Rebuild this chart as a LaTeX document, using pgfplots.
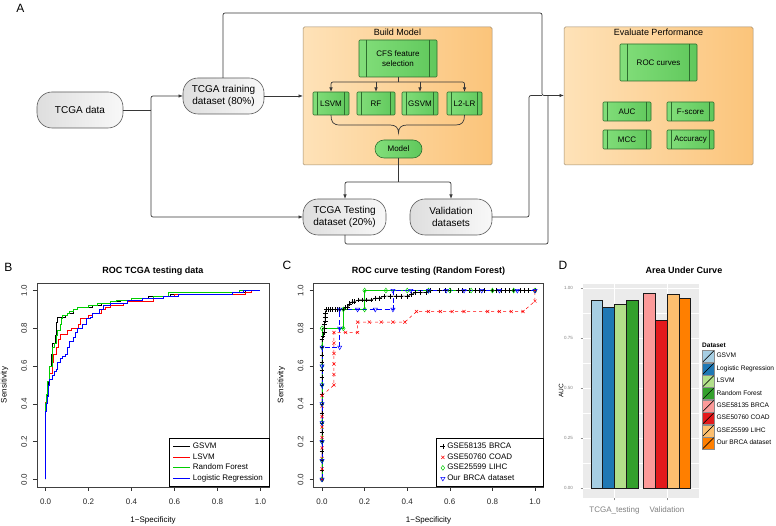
\documentclass[border=0pt]{standalone}
\usepackage{pgfplots}
\pgfplotsset{compat=1.18}
\usepackage{fontspec}
\setmainfont{Liberation Sans}
\usetikzlibrary{arrows.meta}

\definecolor{orL}{RGB}{254,226,184}
\definecolor{orR}{RGB}{251,196,122}
\definecolor{orB}{RGB}{160,140,110}
\definecolor{grL}{RGB}{130,222,122}
\definecolor{grR}{RGB}{96,200,92}
\definecolor{grB}{RGB}{46,110,46}
\definecolor{pL}{RGB}{222,222,222}
\definecolor{pR}{RGB}{248,248,248}
\definecolor{pB}{RGB}{90,90,90}
\definecolor{fl}{RGB}{55,55,55}
\definecolor{rgreen}{RGB}{0,205,0}
\definecolor{bgD}{RGB}{235,235,235}
\definecolor{pa1}{HTML}{A6CEE3}
\definecolor{pa2}{HTML}{1F78B4}
\definecolor{pa3}{HTML}{B2DF8A}
\definecolor{pa4}{HTML}{33A02C}
\definecolor{pa5}{HTML}{FB9A99}
\definecolor{pa6}{HTML}{E31A1C}
\definecolor{pa7}{HTML}{FDBF6F}
\definecolor{pa8}{HTML}{FF7F00}

\newcommand{\fs}[2]{\fontsize{#1}{#2}\selectfont}
% green process box: x1 y1 x2 y2 inset text
\newcommand{\gbox}[6]{%
  \draw[grB, line width=0.6pt, rounded corners=1pt, left color=grL, right color=grR] (#1,#2) rectangle (#3,#4);
  \draw[grB, line width=0.5pt] ({#1+#5},#2) -- ({#1+#5},#4) ({#3-#5},#2) -- ({#3-#5},#4);
  \node[font=\fs{8}{9.5}, align=center] at ({(#1+#3)/2},{(#2+#4)/2}) {#6};}
% grey pill: x1 y1 x2 y2 text
\newcommand{\pbox}[5]{%
  \draw[pB, line width=0.6pt, rounded corners=15pt, left color=pL, right color=pR] (#1,#2) rectangle (#3,#4);
  \node[font=\fs{10}{12}, align=center] at ({(#1+#3)/2},{(#2+#4)/2}) {#5};}

\pgfplotsset{
  rocax/.style={
    scale only axis,
    xmin=-0.04, xmax=1.04, ymin=-0.04, ymax=1.04,
    xtick={0,0.2,0.4,0.6,0.8,1}, ytick={0,0.2,0.4,0.6,0.8,1},
    xticklabels={0.0,0.2,0.4,0.6,0.8,1.0}, yticklabels={0.0,0.2,0.4,0.6,0.8,1.0},
    tick align=outside, tick pos=left, major tick length=4pt,
    tick style={black!80, line width=0.5pt},
    axis line style={black!75, line width=0.7pt},
    ticklabel style={font=\fs{8}{9}, text=black!85},
    xticklabel shift=4.5pt, yticklabel shift=2.5pt,
    xticklabel style={anchor=north},
    yticklabel style={rotate=90, anchor=south},
    label style={font=\fs{8}{9}},
    xlabel={1−Specificity}, ylabel={Sensitivity},
    xlabel style={at={(axis description cs:0.5,-0.165)}, anchor=center},
    ylabel style={at={(axis description cs:-0.14,0.5)}, anchor=center},
    title style={at={(axis description cs:0.5,1.03)}, anchor=center, yshift=0pt, font=\bfseries\fs{9}{10}},
    legend cell align=left,
    legend style={at={(rel axis cs:1,0)}, anchor=south east, draw=black, line width=0.5pt,
      font=\fs{8}{9.5}, row sep=-0.5pt, inner xsep=4pt, inner ysep=2.5pt},
  },
}

\begin{document}
\begin{tikzpicture}[x=1pt,y=1pt]
\useasboundingbox (0pt,0pt) rectangle (776pt,526pt);

\begin{scope}[shift={(0pt,526pt)}, y=-1pt]
% panel letters
\node[font=\fs{12}{14}] at (20.5,8) {A};
\node[font=\fs{12}{14}] at (8.5,267) {B};
\node[font=\fs{12}{14}] at (287,265.5) {C};
\node[font=\fs{12}{14}] at (563,265.5) {D};

% big orange boxes
\draw[orB, line width=0.5pt, rounded corners=1.5pt, left color=orL, right color=orR] (303,27) rectangle (492,165);
\node[font=\fs{9}{10}] at (397.5,32) {Build Model};
\draw[orB, line width=0.5pt, rounded corners=1.5pt, left color=orL, right color=orR] (564,27) rectangle (753,165);
\node[font=\fs{9}{10}] at (658.5,32) {Evaluate Performance};

% green boxes
\gbox{359}{40}{437}{77}{7.5}{CFS feature\\selection}
\gbox{313}{92}{349}{115}{4.5}{LSVM}
\gbox{357}{92}{395}{115}{4.5}{RF}
\gbox{402}{92}{438}{115}{4.5}{GSVM}
\gbox{447}{92}{482}{115}{4.5}{L2-LR}
\gbox{620}{44}{697}{81}{7.5}{ROC curves}
\gbox{603}{102}{651}{121}{4.5}{AUC}
\gbox{667}{102}{714}{121}{4.5}{F-score}
\gbox{603}{130}{651}{149}{4.5}{MCC}
\gbox{667}{130}{714}{149}{4.5}{Accuracy}
\draw[grB, line width=0.6pt, rounded corners=9pt, left color=grL, right color=grR] (375,140) rectangle (422,158);
\node[font=\fs{8}{9.5}] at (398.5,149) {Model};

% grey pills
\pbox{37}{92}{123}{128}{TCGA data}
\pbox{183}{78}{264}{114}{TCGA training\\dataset (80\%)}
\pbox{303}{199}{386}{235}{TCGA Testing\\dataset (20\%)}
\pbox{410}{199}{492}{235}{Validation\\datasets}

% connectors
\begin{scope}[fl, line width=0.7pt, rounded corners=2pt, >={Latex[length=4.5pt,width=3.5pt]}]
\draw (123,110) -- (151,110);
\draw[->] (151,110) -- (151,96) -- (183,96);
\draw[->] (151,110) -- (151,217) -- (303,217);
\draw[->] (264,96) -- (303,96);
\draw[->] (223,78) -- (223,13) -- (542,13) -- (542,95.5) -- (564,95.5);
\draw (492,217) -- (529,217) -- (529,95.5) -- (542,95.5);
\draw (345,235) -- (345,244) -- (548,244) -- (548,95.5);
\draw (398,77) -- (398,82);
\draw[->] (398,82) -| (331,92);
\draw[->] (398,82) -| (464.5,92);
\draw[->] (376,82) -- (376,92);
\draw[->] (420,82) -- (420,92);
\draw[rounded corners=0pt] (331,115) .. controls (331,122) and (333,125) .. (340,125) -- (390,125)
  .. controls (396,125) and (398.5,128) .. (398.5,133) .. controls (398.5,128) and (401,125) .. (407,125)
  -- (456,125) .. controls (462,125) and (464.5,122) .. (464.5,115);
\draw (398.5,158) -- (398.5,182);
\draw[->] (398.5,182) -| (345,199);
\draw[->] (398.5,182) -| (451,199);
\end{scope}

% panel D texts
\node[font=\bfseries\fs{9}{10}] at (684,270) {Area Under Curve};
\node[font=\bfseries\fs{6.5}{8}, anchor=west, inner sep=0pt] at (702,345) {Dataset};
\end{scope}

% ---------- B ----------
\begin{axis}[rocax, at={(37pt,39pt)}, anchor=south west, width=232pt, height=204pt,
  title={ROC TCGA testing data},
  legend image code/.code={\draw[#1] (0pt,0pt) -- (17pt,0pt);}]
\addlegendimage{draw=black, line width=0.9pt}
\addlegendentry{GSVM}
\addlegendimage{draw=red, line width=0.9pt}
\addlegendentry{LSVM}
\addlegendimage{draw=rgreen, line width=0.9pt}
\addlegendentry{Random Forest}
\addlegendimage{draw=blue, line width=0.9pt}
\addlegendentry{Logistic Regression}
\addplot[black, line width=0.8pt, const plot, forget plot] coordinates {
(0,0) (0,0.36) (0.005,0.40) (0.01,0.49) (0.015,0.52) (0.02,0.6) (0.025,0.66) (0.03,0.72)
(0.045,0.76) (0.05,0.83) (0.055,0.86) (0.09,0.87) (0.1,0.88) (0.13,0.9) (0.15,0.91)
(0.22,0.92) (0.26,0.93) (0.3,0.94) (0.35,0.95) (0.4,0.96) (0.48,0.97) (0.58,0.98)
(0.87,0.99) (0.93,1.0) (1,1)};
\addplot[red, line width=0.8pt, const plot, forget plot] coordinates {
(0,0) (0,0.41) (0.005,0.45) (0.01,0.52) (0.02,0.56) (0.03,0.62) (0.035,0.66) (0.05,0.7)
(0.06,0.74) (0.07,0.77) (0.1,0.79) (0.12,0.8) (0.155,0.82) (0.16,0.85) (0.2,0.87)
(0.22,0.88) (0.26,0.9) (0.28,0.91) (0.3,0.92) (0.36,0.93) (0.38,0.94) (0.5,0.97)
(0.6,0.98) (0.93,0.99) (0.96,1.0) (1,1)};
\addplot[rgreen, line width=0.8pt, const plot, forget plot] coordinates {
(0,0) (0,0.4) (0.005,0.45) (0.01,0.52) (0.02,0.6) (0.03,0.7) (0.04,0.72) (0.05,0.76)
(0.055,0.79) (0.07,0.82) (0.075,0.85) (0.08,0.87) (0.1,0.88) (0.11,0.89) (0.13,0.9)
(0.15,0.91) (0.2,0.92) (0.24,0.93) (0.3,0.94) (0.33,0.95) (0.4,0.96) (0.5,0.97)
(0.57,0.99) (0.78,0.99) (0.9,1.0) (1,1)};
\addplot[blue, line width=0.8pt, const plot, forget plot] coordinates {
(0,0) (0,0.36) (0.005,0.40) (0.01,0.44) (0.015,0.5) (0.02,0.53) (0.03,0.55) (0.04,0.57)
(0.05,0.58) (0.055,0.62) (0.07,0.64) (0.08,0.65) (0.09,0.66) (0.1,0.7) (0.11,0.73)
(0.13,0.75) (0.14,0.78) (0.15,0.8) (0.17,0.82) (0.19,0.85) (0.21,0.86) (0.22,0.88)
(0.25,0.9) (0.27,0.92) (0.3,0.93) (0.38,0.95) (0.45,0.96) (0.55,0.97) (0.62,0.98)
(0.87,0.99) (0.92,1.0) (1,1)};
\end{axis}

% ---------- C ----------
\begin{axis}[rocax, at={(313.5pt,39pt)}, anchor=south west, width=230pt, height=204pt,
  title={ROC curve testing (Random Forest)},
  legend style={/tikz/every even column/.append style={text width=90pt}},
  legend image code/.code={\draw[#1] plot coordinates {(3pt,0pt)};}]
\addlegendimage{only marks, mark=+, draw=black, mark size=2.4pt}
\addlegendentry{GSE58135 BRCA}
\addlegendimage{only marks, mark=x, draw=red, mark size=2.2pt}
\addlegendentry{GSE50760 COAD}
\addlegendimage{only marks, mark=diamond, draw=rgreen, mark size=2.4pt}
\addlegendentry{GSE25599 LIHC}
\addlegendimage{only marks, mark=triangle, mark options={rotate=180}, draw=blue, mark size=2.4pt}
\addlegendentry{Our BRCA dataset}
\addplot[black, line width=0.5pt, mark=+, mark size=2.4pt, forget plot] coordinates {
(0,0) (0,0.05) (0,0.1) (0,0.15) (0,0.2) (0,0.25) (0,0.3) (0,0.35) (0,0.4) (0,0.45) (0,0.5)
(0,0.54) (0,0.58) (0,0.62) (0,0.66) (0,0.7) (0,0.74) (0.005,0.76) (0.01,0.78) (0.01,0.8)
(0.01,0.82) (0.015,0.84) (0.015,0.86) (0.015,0.88) (0.02,0.9) (0.03,0.9) (0.04,0.9)
(0.05,0.9) (0.06,0.9) (0.07,0.9) (0.08,0.9) (0.1,0.9) (0.11,0.91) (0.12,0.91) (0.13,0.93)
(0.14,0.94) (0.15,0.94) (0.17,0.95) (0.19,0.95) (0.21,0.95) (0.23,0.95) (0.25,0.96)
(0.27,0.96) (0.29,0.97) (0.32,0.97) (0.35,0.97) (0.37,0.97) (0.4,0.97) (0.42,0.98)
(0.44,0.99) (0.46,0.99) (0.49,0.99) (0.51,1) (0.55,1) (0.58,1) (0.6,1) (0.64,1) (0.66,1)
(0.69,1) (0.72,1) (0.74,1) (0.76,1) (0.8,1) (0.82,1) (0.84,1) (0.86,1) (0.88,1) (0.9,1)
(0.93,1) (0.95,1) (0.97,1) (1,1)};
\addplot[red, line width=0.5pt, dashed, mark=x, mark size=2.2pt, mark options={solid}, forget plot] coordinates {
(0,0) (0,0.056) (0,0.111) (0,0.167) (0,0.222) (0,0.278) (0,0.333) (0,0.389) (0,0.444)
(0.056,0.5) (0.056,0.556) (0.056,0.611) (0.056,0.667) (0.056,0.722) (0.056,0.778)
(0.111,0.778) (0.167,0.778) (0.167,0.833) (0.222,0.833) (0.278,0.833) (0.333,0.833)
(0.389,0.833) (0.444,0.889) (0.5,0.889) (0.556,0.889) (0.611,0.889) (0.667,0.889)
(0.778,0.889) (0.833,0.889) (0.889,0.889) (0.944,0.889) (1,0.944) (1,1)};
\addplot[rgreen, line width=0.5pt, mark=diamond, mark size=2.4pt, forget plot] coordinates {
(0,0) (0,0.1) (0,0.2) (0,0.3) (0,0.4) (0,0.5) (0,0.6) (0,0.7) (0,0.8) (0.1,0.8) (0.1,0.9)
(0.2,0.9) (0.2,1) (0.3,1) (0.4,1) (0.5,1) (0.6,1) (0.7,1) (0.8,1) (0.9,1) (1,1)};
\addplot[blue, line width=0.5pt, dash pattern=on 5pt off 2.5pt, mark=triangle, mark size=2.4pt,
  mark options={solid, rotate=180}, forget plot] coordinates {
(0,0) (0,0.1) (0,0.2) (0,0.3) (0,0.4) (0,0.5) (0,0.6) (0,0.7) (0.083,0.7) (0.083,0.8)
(0.083,0.9) (0.167,0.9) (0.25,0.9) (0.333,0.9) (0.333,1) (0.417,1) (0.5,1) (0.583,1)
(0.667,1) (0.75,1) (0.833,1) (0.917,1) (1,1)};
\end{axis}

% ---------- D ----------
\begin{axis}[at={(583pt,28pt)}, anchor=south west, scale only axis, width=115.5pt, height=214pt,
  xmin=0.4, xmax=2.6, ymin=-0.049, ymax=1.022,
  axis background/.style={fill=bgD},
  axis line style={draw=none},
  xtick={1,2}, xticklabels={TCGA\_testing,Validation},
  ytick={0,0.25,0.5,0.75,1}, yticklabels={0.00,0.25,0.50,0.75,1.00},
  minor ytick={0.125,0.375,0.625,0.875},
  xmajorgrids, ymajorgrids, yminorgrids,
  major grid style={white, line width=0.9pt},
  minor grid style={white, line width=0.4pt},
  tick align=outside, tick pos=left, major tick length=2.5pt, minor tick length=0pt,
  major tick style={black!45, line width=0.5pt},
  xticklabel style={font=\fs{8}{9}, text=black!50, anchor=north},
  yticklabel style={font=\fs{4.5}{5}, text=black!50, anchor=east},
  xticklabel shift=3pt, yticklabel shift=4pt,
  ylabel={AUC}, ylabel style={at={(axis description cs:-0.19,0.5)}, anchor=center, font=\fs{6.5}{8}},
  legend cell align=left,
  legend style={at={(axis description cs:1.03,0.692)}, anchor=north west, draw=none, fill=none,
    inner sep=0pt, font=\fs{6.6}{8}, row sep=0pt},
  legend image code/.code={%
    \draw[#1, draw=black!45, line width=0.4pt] (0pt,-6pt) rectangle (12pt,6pt);
    \draw[black, line width=0.5pt] (0.6pt,-5.4pt) -- (11.4pt,5.4pt);},
  dbar/.style={ybar, bar width=0.225, bar shift=0pt, draw=black!90, line width=0.6pt},
]
\addplot[dbar, fill=pa1] coordinates {(0.6625,0.938)};
\addlegendentry{GSVM}
\addplot[dbar, fill=pa2] coordinates {(0.8875,0.903)};
\addlegendentry{Logistic Regression}
\addplot[dbar, fill=pa3] coordinates {(1.1125,0.918)};
\addlegendentry{LSVM}
\addplot[dbar, fill=pa4] coordinates {(1.3375,0.942)};
\addlegendentry{Random Forest}
\addplot[dbar, fill=pa5] coordinates {(1.6625,0.973)};
\addlegendentry{GSE58135 BRCA}
\addplot[dbar, fill=pa6] coordinates {(1.8875,0.840)};
\addlegendentry{GSE50760 COAD}
\addplot[dbar, fill=pa7] coordinates {(2.1125,0.970)};
\addlegendentry{GSE25599 LIHC}
\addplot[dbar, fill=pa8] coordinates {(2.3375,0.950)};
\addlegendentry{Our BRCA dataset}
\end{axis}
\end{tikzpicture}
\end{document}
